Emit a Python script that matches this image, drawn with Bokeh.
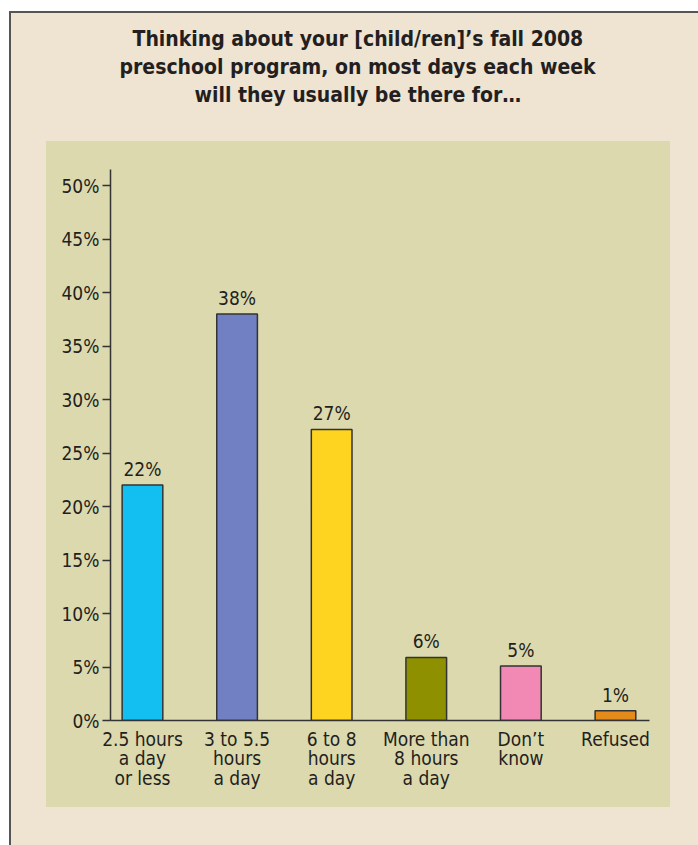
from bokeh.plotting import figure
from bokeh.models import ColumnDataSource, FixedTicker, Range1d, Title
from bokeh.core.properties import value
from bokeh.embed import file_html
from bokeh.resources import INLINE

# ---- data ----
categories = ["2.5 hours\na day\nor less", "3 to 5.5\nhours\na day",
              "6 to 8\nhours\na day", "More than\n8 hours\na day",
              "Don\u2019t\nknow", "Refused"]
shares = [22, 38, 27.2, 5.9, 5.1, 0.9]
bar_colors = ["#12BFF0", "#7080C2", "#FFD420", "#8E9000", "#F288B4", "#E38C1C"]
y_ticks = [0, 5, 10, 15, 20, 25, 30, 35, 40, 45, 50]
y_tick_labels = [f"{t}%" for t in y_ticks]
title_lines = ["Thinking about your [child/ren]\u2019s fall 2008",
               "preschool program, on most days each week",
               "will they usually be there for\u2026"]
title_offsets = [22, 9, 84]

FONT = "DejaVu Sans Condensed"
TXT = "#231f20"
W, H = 698, 845

BEIGE = "#EFE3D2"
KHAKI = "#DCD9AE"
EDGE = "#555555"

bg = ", ".join([
    f"linear-gradient({KHAKI}, {KHAKI}) 46px 141px / 624px 666px no-repeat",
    f"linear-gradient({BEIGE}, {BEIGE}) 11px 13px / 100% 100% no-repeat",
    f"linear-gradient({EDGE}, {EDGE}) 9px 11px / 100% 100% no-repeat",
    "#ffffff",
])

xs = list(range(len(categories)))
src = ColumnDataSource(dict(
    x=xs, top=shares, color=bar_colors,
    label=[f"{round(v)}%" for v in shares]))

p = figure(width=W, height=H, output_backend="svg", toolbar_location=None,
           x_range=Range1d(-0.338, 5.36), y_range=Range1d(0, 51.5),
           min_border_left=110, min_border_right=49,
           min_border_top=169, min_border_bottom=125,
           styles={"background": bg})
p.border_fill_color = None
p.background_fill_color = None
p.outline_line_color = None
p.grid.visible = False

p.vbar(x="x", top="top", width=0.43, bottom=0, source=src,
       fill_color="color", line_color="#333333", line_width=1.5)

p.text(x="x", y="top", text="label", source=src, y_offset=-5,
       text_align="center", text_baseline="bottom",
       text_font=value(FONT), text_font_size="19px", text_color=TXT)

# y axis
ya = p.yaxis[0]
ya.ticker = FixedTicker(ticks=y_ticks)
ya.major_label_overrides = {t: l for t, l in zip(y_ticks, y_tick_labels)}
ya.major_label_text_font = FONT
ya.major_label_text_font_size = "19px"
ya.major_label_text_color = TXT
ya.axis_line_color = "#333333"
ya.axis_line_width = 1.5
ya.major_tick_line_color = "#333333"
ya.major_tick_line_width = 1.5
ya.major_tick_in = 0
ya.major_tick_out = 8
ya.minor_tick_line_color = None
ya.major_label_standoff = 3

# x axis
xa = p.xaxis[0]
xa.ticker = FixedTicker(ticks=xs)
xa.major_label_overrides = {i: c for i, c in zip(xs, categories)}
xa.major_label_text_font = FONT
xa.major_label_text_font_size = "19px"
xa.major_label_text_color = TXT
xa.major_label_text_line_height = 0.9
xa.axis_line_color = "#333333"
xa.axis_line_width = 1.5
xa.major_tick_line_color = None
xa.minor_tick_line_color = None
xa.major_tick_in = 0
xa.major_tick_out = 0
xa.major_label_standoff = 7

# spacer between the title block and the plot area
p.add_layout(Title(text=" ", text_font=FONT, text_font_size="21px",
                   standoff=36), "above")
# title: three lines, innermost added first
for i in (2, 1, 0):
    t = Title(text=title_lines[i], align="left", offset=title_offsets[i],
              text_font=FONT, text_font_style="bold", text_font_size="21px",
              text_color=TXT, standoff=2)
    p.add_layout(t, "above")

open("out.html", "w").write(file_html(p, INLINE))
